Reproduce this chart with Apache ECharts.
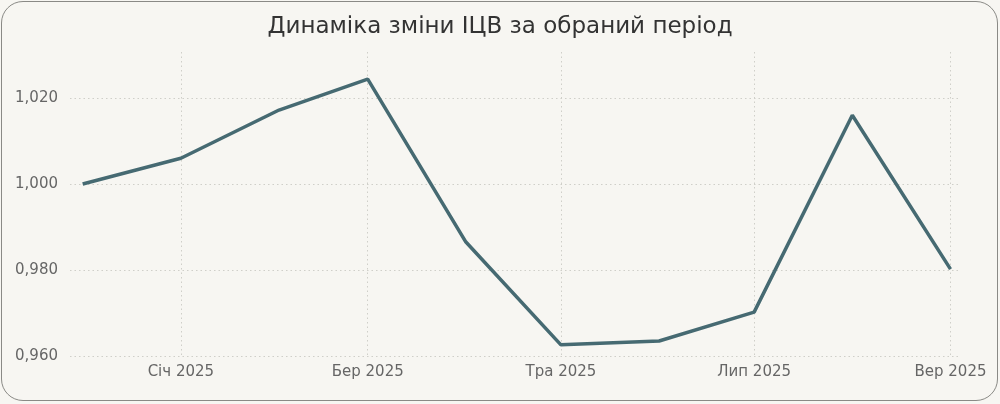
<!DOCTYPE html>
<html>
<head>
<meta charset="utf-8">
<script src="https://cdn.jsdelivr.net/npm/echarts@6/dist/echarts.min.js"></script>
<style>
  html, body { margin: 0; padding: 0; background: #f7f6f2; }
  #wrap { position: absolute; left: 1px; top: 1px; width: 995px; height: 398px;
          border: 1.5px solid #8a8a86; border-radius: 22px; background: #f7f6f2; overflow: hidden; }
  #chart { position: absolute; left: -2.5px; top: -2.5px; width: 1000px; height: 404px; }
</style>
</head>
<body>
<div id="wrap"><div id="chart"></div></div>
<script>
// Monthly points from Dec 2024 to Sep 2025
const dates = ['2024-12-01', '2025-01-01', '2025-02-01', '2025-03-01', '2025-04-01', '2025-05-01', '2025-06-01', '2025-07-01', '2025-08-01', '2025-09-01'];
const values = [1.0000, 1.0060, 1.0172, 1.0244, 0.9865, 0.9626, 0.9635, 0.9702, 1.0160, 0.9802];
const monthShort = ['Січ', 'Лют', 'Бер', 'Кві', 'Тра', 'Чер', 'Лип', 'Сер', 'Вер', 'Жов', 'Лис', 'Гру'];
const labeledDates = ['2025-01-01', '2025-03-01', '2025-05-01', '2025-07-01', '2025-09-01'];
const yTicks = [0.96, 0.98, 1.00, 1.02];
const titleText = 'Динаміка зміни ІЦВ за обраний період';

// day-number scale (days since first date), so spacing follows the calendar
const DAY = 86400000;
const ts = d => Date.UTC(+d.slice(0, 4), +d.slice(5, 7) - 1, +d.slice(8, 10));
const t0 = ts(dates[0]);
const dayOf = d => Math.round((ts(d) - t0) / DAY);
const labelOfDay = n => { const d = new Date(t0 + n * DAY); return monthShort[d.getUTCMonth()] + ' ' + d.getUTCFullYear(); };

const chart = echarts.init(document.getElementById('chart'), null, { renderer: 'canvas' });
const font = "'DejaVu Sans', Verdana, sans-serif";
const gridLine = { show: true, lineStyle: { type: [1.5, 3], color: '#cfcfc9', width: 1 } };
const xTicks = labeledDates.map(dayOf);
chart.setOption({
  backgroundColor: 'transparent',
  animation: false,
  title: {
    text: titleText, left: 'center', top: 11,
    textStyle: { fontFamily: font, fontSize: 23, fontWeight: 'normal', color: '#333' }
  },
  grid: { left: 70, right: 40, top: 52, bottom: 48 },
  xAxis: {
    type: 'value', min: dayOf('2024-11-27'), max: dayOf('2025-09-04'),
    axisLine: { show: false },
    axisTick: { show: false, customValues: xTicks },
    axisLabel: {
      customValues: xTicks, margin: 9,
      formatter: v => labelOfDay(v),
      fontFamily: font, fontSize: 15, color: '#666'
    },
    splitLine: gridLine
  },
  yAxis: {
    type: 'value', min: 0.96, max: 1.0307,
    axisLine: { show: false }, axisTick: { show: false, customValues: yTicks },
    axisLabel: {
      customValues: yTicks, margin: 12,
      formatter: v => v.toFixed(3).replace('.', ','), fontFamily: font, fontSize: 15, color: '#666'
    },
    splitLine: gridLine
  },
  series: [{
    type: 'line',
    data: values.map((v, i) => [dayOf(dates[i]), v]),
    showSymbol: false, symbol: 'none',
    lineStyle: { color: '#466a72', width: 3.5 }
  }]
});
</script>
</body>
</html>
